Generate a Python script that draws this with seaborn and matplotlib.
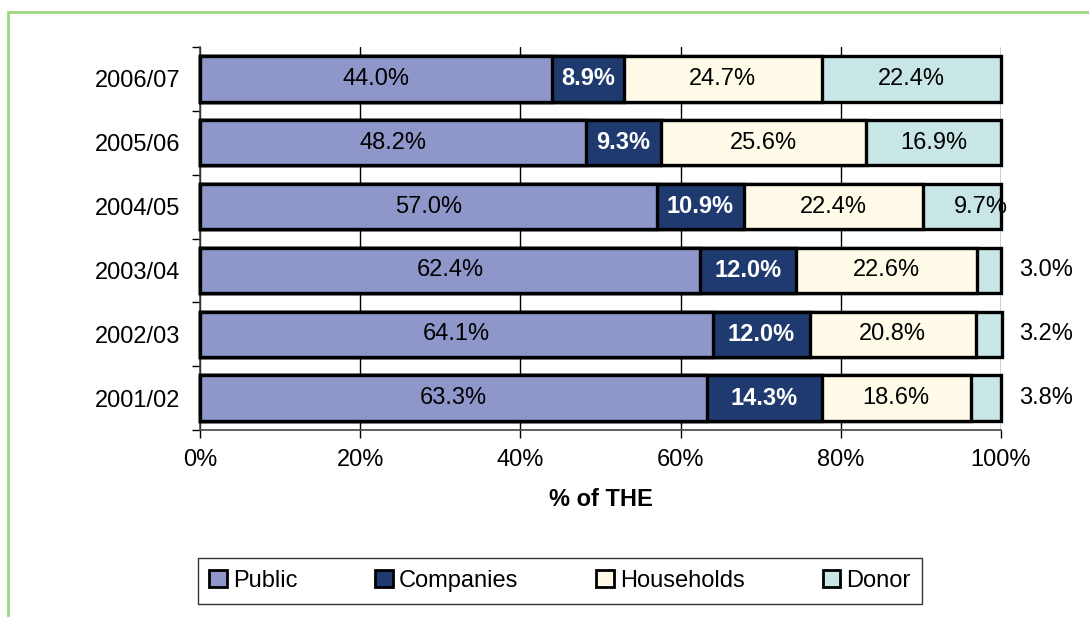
import matplotlib
matplotlib.use("Agg")
import matplotlib.pyplot as plt
import numpy as np
import pandas as pd
import seaborn as sns
from matplotlib.patches import Patch, Rectangle

# Data (share of THE, %)
years = ["2006/07", "2005/06", "2004/05", "2003/04", "2002/03", "2001/02"]
public = [44.0, 48.2, 57.0, 62.4, 64.1, 63.3]
companies = [8.9, 9.3, 10.9, 12.0, 12.0, 14.3]
households = [24.7, 25.6, 22.4, 22.6, 20.8, 18.6]
donor = [22.4, 16.9, 9.7, 3.0, 3.2, 3.8]

series = ["Public", "Companies", "Households", "Donor"]
colors = ["#8F96C9", "#1E3A6F", "#FFFBE8", "#C8E6E6"]

df = pd.DataFrame({"year": years, "Public": public, "Companies": companies,
                   "Households": households, "Donor": donor})
cum = df[series].cumsum(axis=1)

sns.set_style("white")
plt.rcParams["font.family"] = ["Liberation Sans", "DejaVu Sans"]
plt.rcParams.update({"text.color": "black", "axes.labelcolor": "black",
                     "xtick.color": "black", "ytick.color": "black"})

fig = plt.figure(figsize=(10.89, 6.17), dpi=100)
ax = fig.add_axes([200 / 1089, 1 - 430 / 617, 801 / 1089, 383 / 617])

# stacked bars: draw cumulative totals from the outside in
for name, col in reversed(list(zip(series, colors))):
    sns.barplot(x=cum[name], y=df["year"], order=years, orient="h", color=col,
                saturation=1, edgecolor="black", linewidth=2.4, width=0.71,
                ax=ax, zorder=3, clip_on=False)

fs = 17
# labels
for i, yr in enumerate(years):
    for name in series:
        val = df.loc[i, name]
        center = cum.loc[i, name] - val / 2
        txt = f"{val:.1f}%"
        if name == "Companies":
            ax.text(center, i, txt, ha="center", va="center", color="white",
                    fontsize=fs, fontweight="bold", zorder=5)
        elif name == "Donor" and val < 5:
            ax.text(102.2, i, txt, ha="left", va="center", color="black",
                    fontsize=fs, zorder=5, clip_on=False)
        elif name == "Donor" and val < 12:
            ax.text(center + 2.3, i, txt, ha="center", va="center",
                    color="black", fontsize=fs, zorder=5, clip_on=False)
        else:
            ax.text(center, i, txt, ha="center", va="center", color="black",
                    fontsize=fs, zorder=5)

ax.set_xlim(0, 100)
ax.set_xticks([0, 20, 40, 60, 80, 100])
ax.set_xticklabels(["0%", "20%", "40%", "60%", "80%", "100%"])
ax.grid(axis="x", color="black", linewidth=1, zorder=0)
ax.grid(axis="y", visible=False)
ax.set_axisbelow(True)

ax.set_yticks(np.arange(-0.5, 6, 1), minor=True)
ax.tick_params(axis="y", which="major", length=0, pad=14, labelsize=fs)
ax.tick_params(axis="y", which="minor", length=6, width=1, color="black", left=True)
ax.tick_params(axis="x", length=6, width=1, color="black", bottom=True,
               pad=8, labelsize=fs)

for s in ["top", "right"]:
    ax.spines[s].set_visible(False)
for s in ["left", "bottom"]:
    ax.spines[s].set_color("#444444")
    ax.spines[s].set_linewidth(1.2)

ax.set_ylabel("")
ax.set_xlabel("% of THE", fontsize=fs, fontweight="bold", labelpad=12)

handles = [Patch(facecolor=c, edgecolor="black", linewidth=2) for c in colors]
leg = fig.legend(handles, series, loc="center", ncol=4,
                 bbox_to_anchor=(560 / 1089, 1 - 581 / 617), frameon=True,
                 fancybox=False, edgecolor="black", fontsize=fs,
                 handlelength=0.75, handleheight=0.75, handletextpad=0.25,
                 columnspacing=3.3, borderpad=0.5, borderaxespad=0)
leg.get_frame().set_linewidth(1)

# green frame around the chart area
fig.patches.append(Rectangle((8 / 1089, -0.1), 1.2, 0.1 + 605 / 617,
                             transform=fig.transFigure, fill=False,
                             edgecolor="#9CD67E", linewidth=2))

fig.savefig("out.png", dpi=100)
